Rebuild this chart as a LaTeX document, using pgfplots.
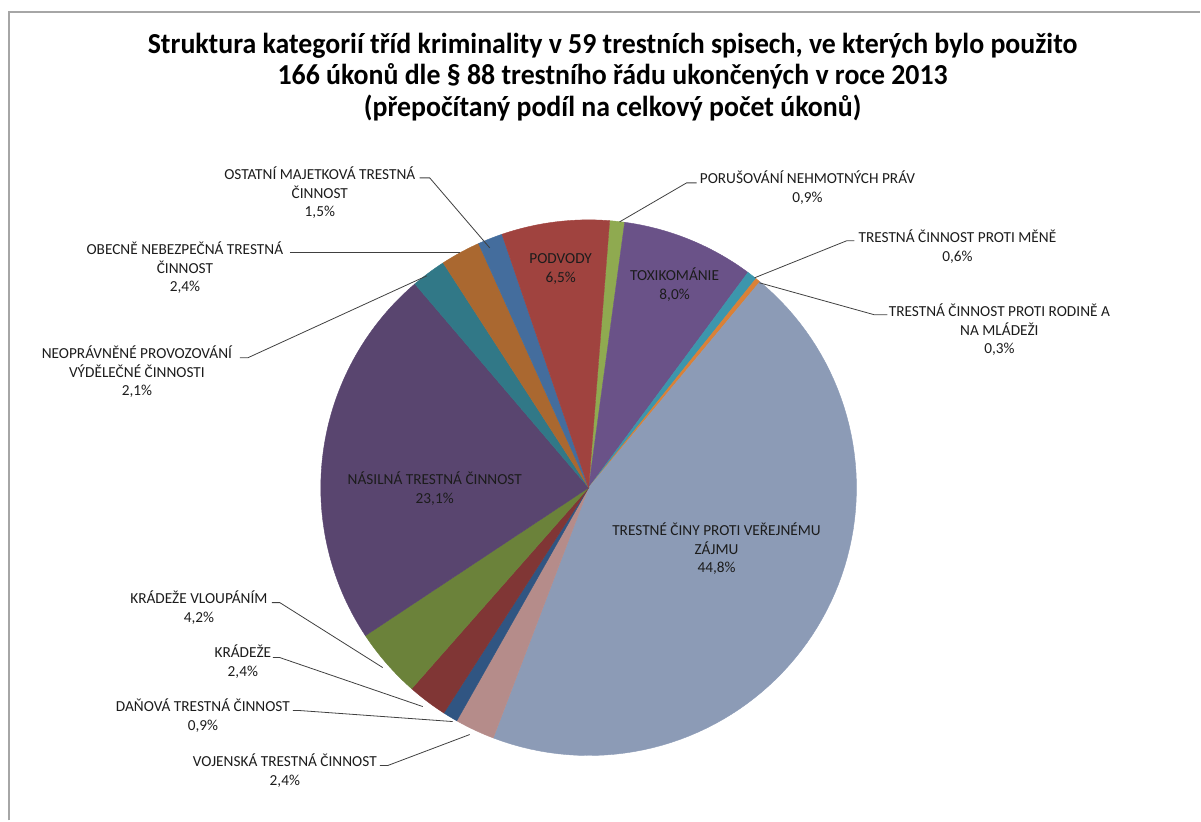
\documentclass[border=0pt]{standalone}
\usepackage{fontspec}
\setmainfont{Carlito}
\usepackage{pgfplots}
\usepackage{pgfplotstable}
\pgfplotsset{compat=1.18}

\definecolor{cPorus}{HTML}{8FAA50}
\definecolor{cToxi}{HTML}{6A5288}
\definecolor{cMena}{HTML}{3C96AC}
\definecolor{cRodina}{HTML}{DA8137}
\definecolor{cZajem}{HTML}{8C9BB6}
\definecolor{cVojen}{HTML}{B58C8A}
\definecolor{cDan}{HTML}{305582}
\definecolor{cKrad}{HTML}{803635}
\definecolor{cVloup}{HTML}{6B823A}
\definecolor{cNasil}{HTML}{59456F}
\definecolor{cNeopr}{HTML}{317887}
\definecolor{cObec}{HTML}{AA6830}
\definecolor{cOstat}{HTML}{446D9D}
\definecolor{cPodv}{HTML}{A0433F}
\definecolor{txt}{HTML}{1C1C1C}

% shares in %, clockwise from the top
\pgfplotstableread{
id      value color
porus   0.9   cPorus
toxi    8.0   cToxi
mena    0.6   cMena
rodina  0.3   cRodina
zajem   44.8  cZajem
vojen   2.4   cVojen
danova  0.9   cDan
kradeze 2.4   cKrad
vloup   4.2   cVloup
nasil   23.1  cNasil
neopr   2.1   cNeopr
obecne  2.4   cObec
ostatni 1.5   cOstat
podvody 6.5   cPodv
}\shares

\newcommand{\cx}{589}
\newcommand{\cy}{333}
\newcommand{\rad}{268}
\newcommand{\astart}{85.5}
\newcommand{\degper}{3.5964} % 360 degrees / 100.1 %

\begin{document}
\begin{tikzpicture}
\begin{axis}[
    scale only axis,
    width=1201pt, height=821pt,
    xmin=0, xmax=1201, ymin=0, ymax=821,
    hide axis, clip=false,
]
\pgfplotstablegetrowsof{\shares}
\pgfmathtruncatemacro\lastrow{\pgfplotsretval-1}
\xdef\cumacc{0}
\foreach \i in {0,...,\lastrow}{
    \pgfplotstablegetelem{\i}{value}\of\shares \let\val\pgfplotsretval
    \pgfplotstablegetelem{\i}{color}\of\shares \let\col\pgfplotsretval
    \pgfmathsetmacro\abeg{\astart-\degper*\cumacc}
    \pgfmathsetmacro\aend{\abeg-\degper*\val}
    \pgfmathsetmacro\newacc{\cumacc+\val}
    \xdef\cumacc{\newacc}
    \edef\tmp{\noexpand\addplot[fill=\col, draw=\col, line width=0.4pt,
        domain=\abeg:\aend, samples=80, variable=\noexpand\t]
        ({\cx+\rad*cos(\noexpand\t)},{\cy+\rad*sin(\noexpand\t)}) -- (\cx,\cy) -- cycle;}
    \tmp
}

% frame
\draw[gray!70, line width=1.5pt] (9,0) -- (9,809) -- (1201,809);

% title
\node[align=center, xscale=0.96, transform shape,
      font=\fontsize{29}{31.6}\selectfont\bfseries] at (613,744)
    {Struktura kategorií tříd kriminality v 59 trestních spisech, ve kterých bylo použito\\
     166 úkonů dle § 88 trestního řádu ukončených v roce 2013\\
     (přepočítaný podíl na celkový počet úkonů)};

% leader lines
\begin{scope}[draw=black!75, line width=0.8pt]
\draw (420,643) -- (430,643) -- (490,573);
\draw (290,568) -- (460,568);
\draw (240,463) -- (248,463) -- (427,545);
\draw (697,638) -- (687,638) -- (620,599);
\draw (855,580) -- (847,580) -- (755,543);
\draw (888,506) -- (875,506) -- (760,538);
\draw (272,218) -- (280,218) -- (383,153);
\draw (273,163) -- (280,163) -- (423,114);
\draw (293,110) -- (300,110) -- (453,99);
\draw (380,55) -- (388,55) -- (470,86);
\end{scope}

% data labels
\tikzset{lab/.style={align=center, text=txt, font=\fontsize{15.3}{18.7}\selectfont}}
\node[lab] at (320,628) {OSTATNÍ MAJETKOVÁ TRESTNÁ\\ČINNOST\\1,5\%};
\node[lab] at (185,553) {OBECNĚ NEBEZPEČNÁ TRESTNÁ\\ČINNOST\\2,4\%};
\node[lab] at (137,449) {NEOPRÁVNĚNÉ PROVOZOVÁNÍ\\VÝDĚLEČNÉ ČINNOSTI\\2,1\%};
\node[lab] at (808,633) {PORUŠOVÁNÍ NEHMOTNÝCH PRÁV\\0,9\%};
\node[lab] at (958,574) {TRESTNÁ ČINNOST PROTI MĚNĚ\\0,6\%};
\node[lab] at (1000,491) {TRESTNÁ ČINNOST PROTI RODINĚ A\\NA MLÁDEŽI\\0,3\%};
\node[lab] at (199,213) {KRÁDEŽE VLOUPÁNÍM\\4,2\%};
\node[lab] at (243,159) {KRÁDEŽE\\2,4\%};
\node[lab] at (203,105) {DAŇOVÁ TRESTNÁ ČINNOST\\0,9\%};
\node[lab] at (285,50) {VOJENSKÁ TRESTNÁ ČINNOST\\2,4\%};
\node[lab] at (561,552) {PODVODY\\6,5\%};
\node[lab] at (675,536) {TOXIKOMÁNIE\\8,0\%};
\node[lab] at (435,332) {NÁSILNÁ TRESTNÁ ČINNOST\\23,1\%};
\node[lab] at (717,272) {TRESTNÉ ČINY PROTI VEŘEJNÉMU\\ZÁJMU\\44,8\%};
\end{axis}
\useasboundingbox (current axis.south west) rectangle (current axis.north east);
\end{tikzpicture}
\end{document}
